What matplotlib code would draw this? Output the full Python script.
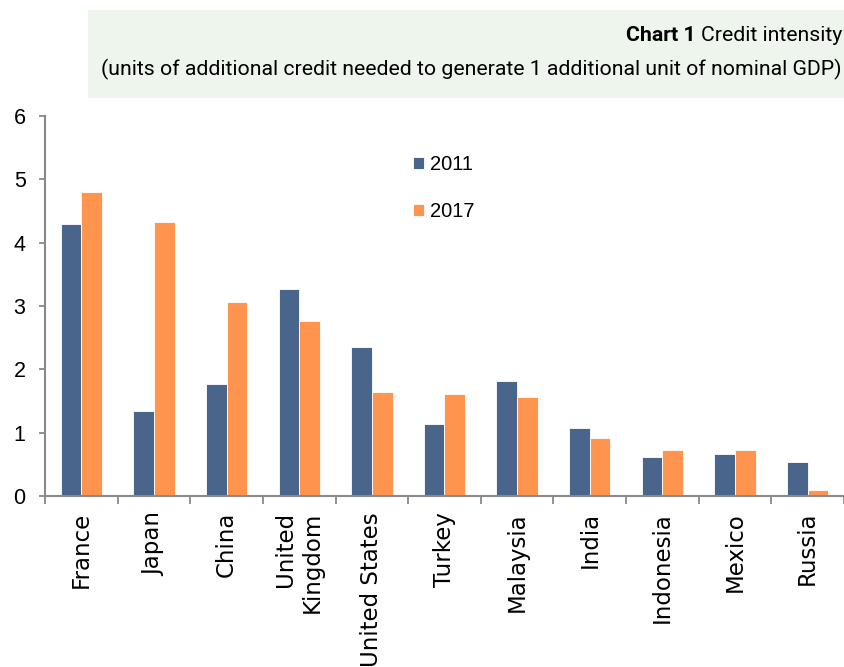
import numpy as np
import matplotlib
matplotlib.use('Agg')
import matplotlib.pyplot as plt
from matplotlib.patches import Rectangle

# Credit intensity by country
countries = ['France', 'Japan', 'China', 'United\nKingdom', 'United States', 'Turkey',
             'Malaysia', 'India', 'Indonesia', 'Mexico', 'Russia']
vals_2011 = [4.30, 1.34, 1.77, 3.27, 2.35, 1.14, 1.81, 1.08, 0.61, 0.67, 0.53]
vals_2017 = [4.80, 4.32, 3.07, 2.76, 1.64, 1.61, 1.57, 0.92, 0.72, 0.72, 0.10]
series_labels = ['2011', '2017']
yticks = [0, 1, 2, 3, 4, 5, 6]

BLUE = '#4A658C'
ORANGE = '#FF944F'
AXIS_GREY = '#898989'
BOX_GREEN = '#EDF5EC'

W, H = 845, 667
fig = plt.figure(figsize=(W / 100, H / 100), dpi=100)

# header box with the title
fig.patches.append(Rectangle((88 / W, 1 - 98 / H), (W - 88) / W, 88 / H,
                             transform=fig.transFigure, facecolor=BOX_GREEN,
                             edgecolor='none', zorder=0))

title_font = ['Roboto', 'DejaVu Sans']
t1 = fig.text(842 / W, 1 - 41 / H, 'Credit intensity', ha='right', va='baseline',
              fontsize=15.3, family=title_font)
t2 = fig.text(842 / W, 1 - 75 / H,
              '(units of additional credit needed to generate 1 additional unit of nominal GDP)',
              ha='right', va='baseline', fontsize=15.3, family=title_font)

ax = fig.add_axes([45 / W, 1 - 496 / H, 799 / W, 380 / H])

x = np.arange(len(countries))
bw = 0.285
ax.bar(x - bw / 2, vals_2011, bw, color=BLUE, edgecolor='white', linewidth=0.6,
       label=series_labels[0])
ax.bar(x + bw / 2, vals_2017, bw, color=ORANGE, edgecolor='white', linewidth=0.6,
       label=series_labels[1])

ax.set_xlim(-0.5, len(countries) - 0.5)
ax.set_ylim(0, 6)
ax.set_yticks(yticks)
ax.set_yticklabels([str(v) for v in yticks], family='Liberation Sans', fontsize=15.5)

ax.set_xticks(x)
ax.set_xticklabels(countries, rotation=90, fontsize=16.5, family='DejaVu Sans',
                   va='top', ha='center', multialignment='right')
ax.set_xticks(np.arange(-0.5, len(countries)), minor=True)
ax.tick_params(axis='x', which='major', length=0, pad=11.5)
ax.tick_params(axis='x', which='minor', length=5.5, width=1.3, color=AXIS_GREY)
ax.tick_params(axis='y', length=4, width=1.3, color=AXIS_GREY, pad=10)

for side in ['top', 'right']:
    ax.spines[side].set_visible(False)
for side in ['left', 'bottom']:
    ax.spines[side].set_color(AXIS_GREY)
    ax.spines[side].set_linewidth(1.5)
ax.spines['left'].set_bounds(0, 6)

leg = ax.legend(loc='upper left', bbox_to_anchor=(413 / W, 1 - 155 / H),
                bbox_transform=fig.transFigure, frameon=False, borderpad=0,
                borderaxespad=0, handlelength=0.55, handleheight=0.55,
                handletextpad=0.3, labelspacing=1.4,
                prop={'family': 'Liberation Sans', 'size': 14.5})

# bold "Chart 1" placed just left of the normal title text
fig.canvas.draw()
r = fig.canvas.get_renderer()
bb = t1.get_window_extent(r)
fig.text((bb.x0 - 5) / W, 1 - 41 / H, 'Chart 1', ha='right', va='baseline',
         fontsize=15.3, fontweight='bold', family=title_font)

fig.savefig('out.png', dpi=100)
